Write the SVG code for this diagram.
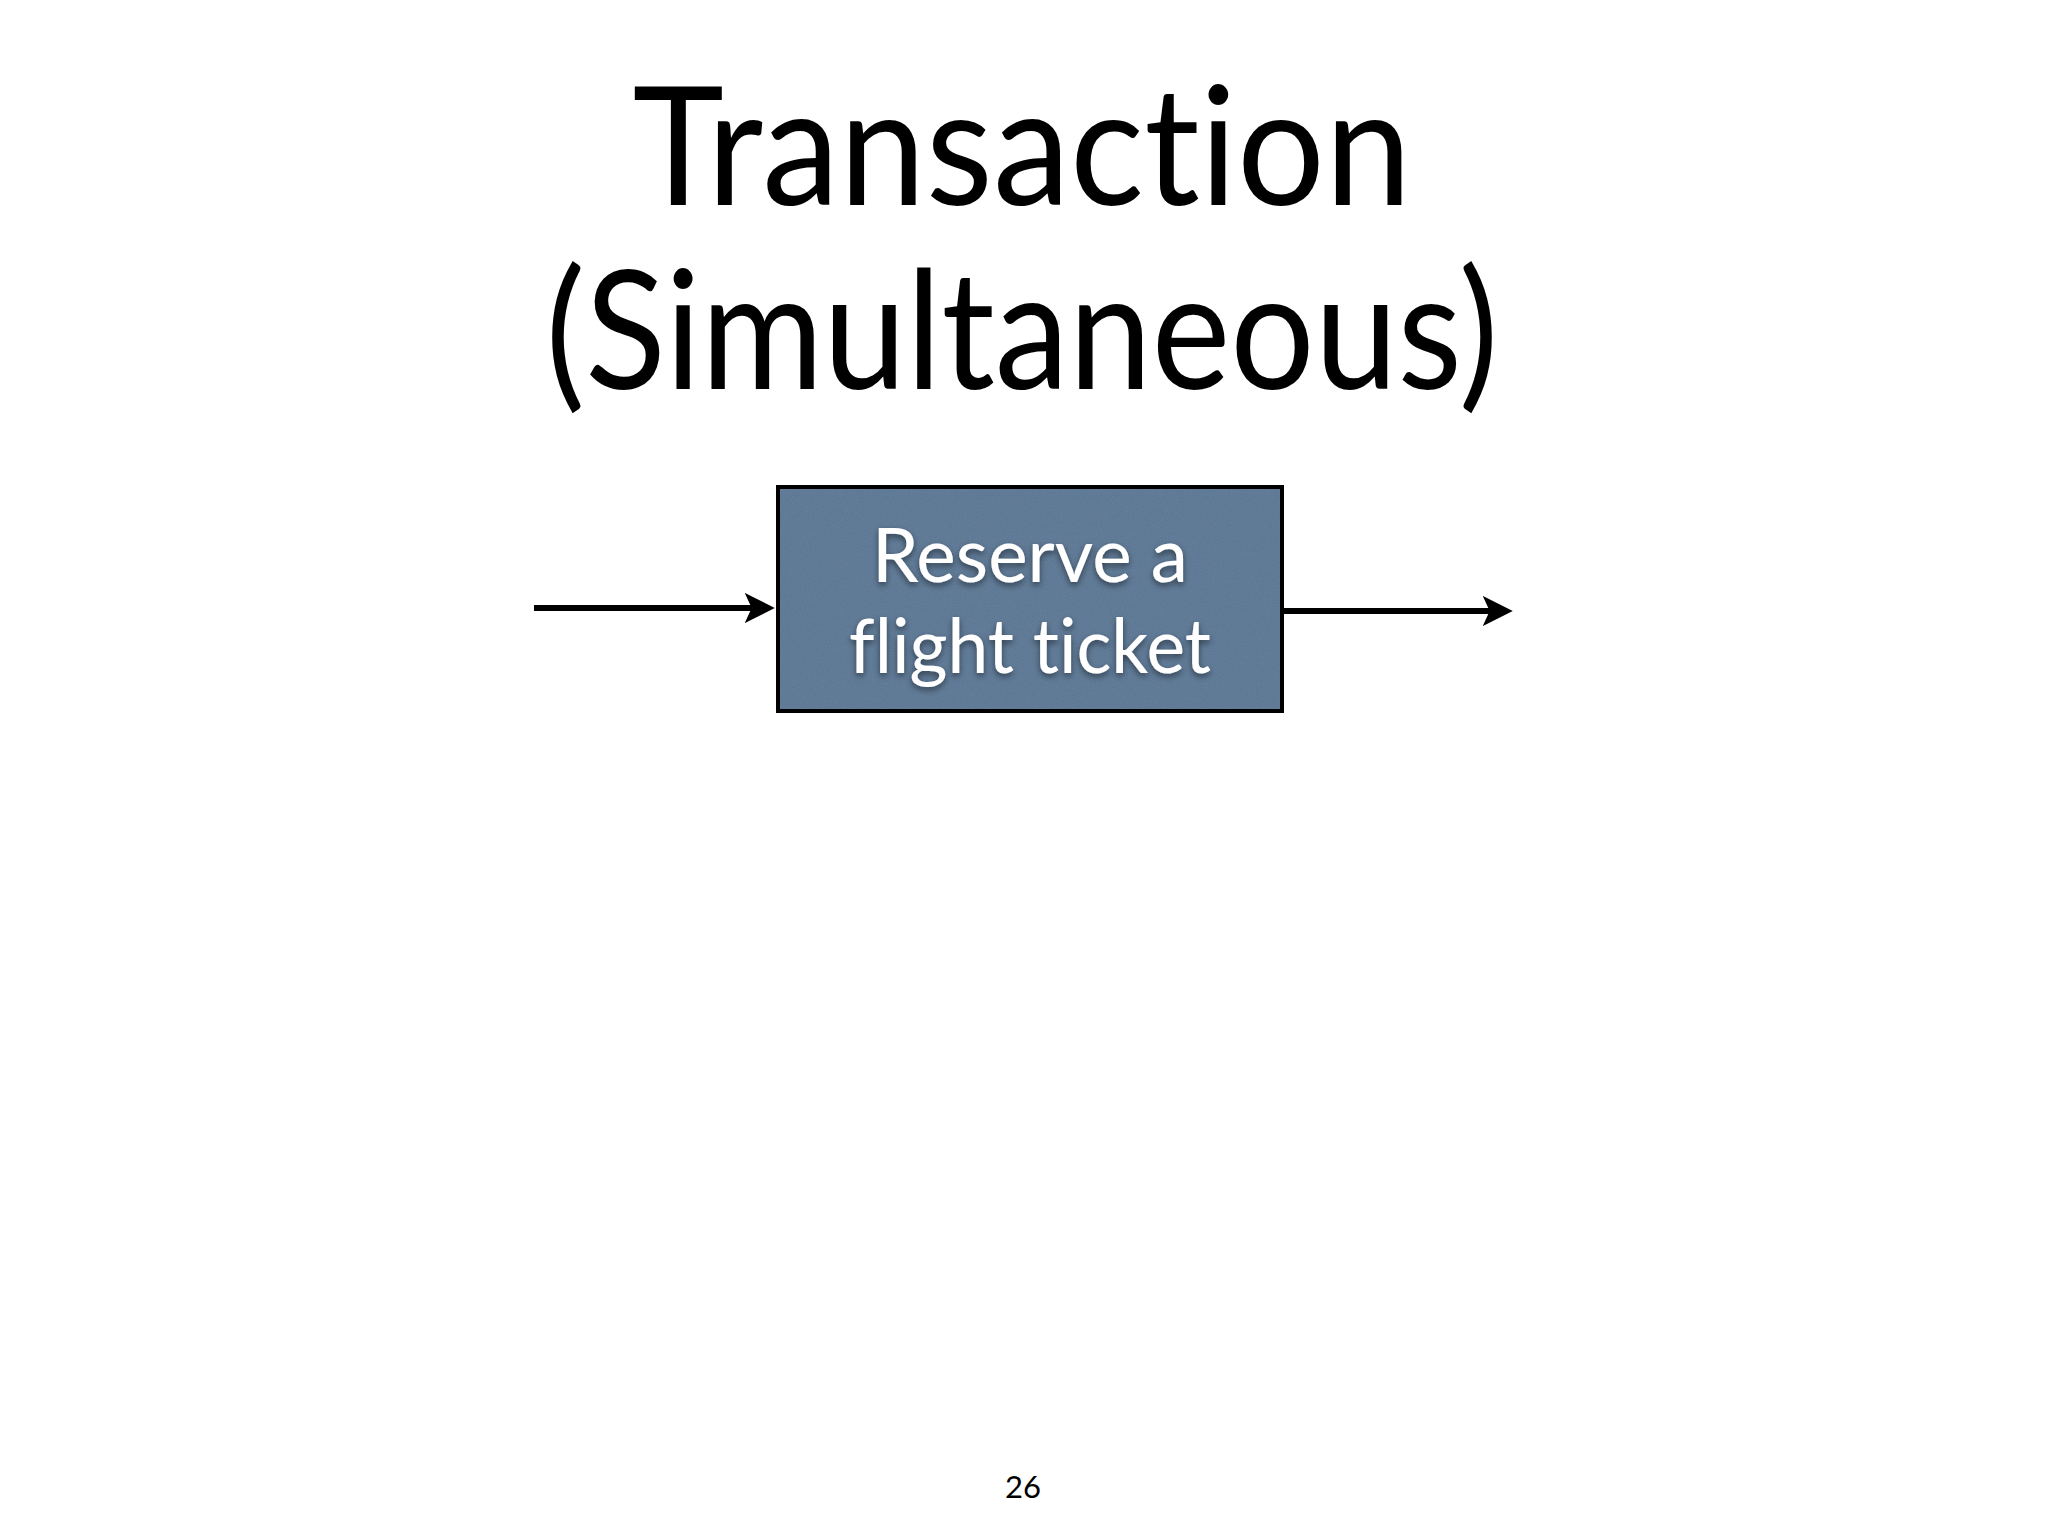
<svg xmlns="http://www.w3.org/2000/svg" width="2048" height="1536" viewBox="0 0 2048 1536">
<style>
text{font-variant-ligatures:none;font-feature-settings:"liga" 0,"clig" 0}
.title{font-family:"Lato","Open Sans",sans-serif;font-size:164px;fill:#000;text-anchor:middle}
.lbl{font-family:"Lato","Open Sans",sans-serif;font-size:76px;fill:#fff;text-anchor:middle}
.pg{font-family:"Lato","Open Sans",sans-serif;font-size:31px;fill:#000;text-anchor:middle}
.conn{stroke:#000;stroke-width:6;fill:none}
</style>
<defs>
<marker id="ah" markerUnits="userSpaceOnUse" markerWidth="30" markerHeight="30" viewBox="0 0 26 26" refX="8" refY="13" orient="auto">
<path d="M0,0 L26,13 L0,26 L6,13 Z" fill="#000"/>
</marker>
<filter id="shadow" x="-10%" y="-20%" width="120%" height="150%">
<feDropShadow dx="0" dy="3" stdDeviation="3" flood-color="#000" flood-opacity="0.5"/>
</filter>
<filter id="noise" x="0" y="0" width="100%" height="100%">
<feTurbulence type="fractalNoise" baseFrequency="0.8" numOctaves="2" seed="3" result="t"/>
<feColorMatrix in="t" type="matrix" values="0 0 0 0 0.45  0 0 0 0 0.55  0 0 0 0 0.65  0 0 0 0.35 -0.05"/>
<feComposite in2="SourceGraphic" operator="in"/>
</filter>
</defs>
<rect width="2048" height="1536" fill="#fff"/>
<g id="title">
<text class="title" x="1022" y="205" textLength="779" lengthAdjust="spacingAndGlyphs">Transaction</text>
<text class="title" x="1022" y="389" textLength="953" lengthAdjust="spacingAndGlyphs">(Simultaneous)</text>
</g>
<g id="connectors">
<line class="conn" x1="534" y1="608" x2="754" y2="608" marker-end="url(#ah)"/>
<line class="conn" x1="1283" y1="611" x2="1492" y2="611" marker-end="url(#ah)"/>
</g>
<g id="node-reserve">
<rect x="778" y="487" width="504" height="224" fill="#5b7693" stroke="#000" stroke-width="4"/>
<rect x="780" y="489" width="500" height="220" fill="#fff" filter="url(#noise)" opacity="0.5"/>
<g filter="url(#shadow)">
<text class="lbl" x="1030" y="582" textLength="316" lengthAdjust="spacingAndGlyphs">Reserve a</text>
<text class="lbl" x="1030" y="673" textLength="362" lengthAdjust="spacingAndGlyphs">flight ticket</text>
</g>
</g>
<g id="page-number">
<text class="pg" x="1023" y="1498">26</text>
</g>
</svg>
